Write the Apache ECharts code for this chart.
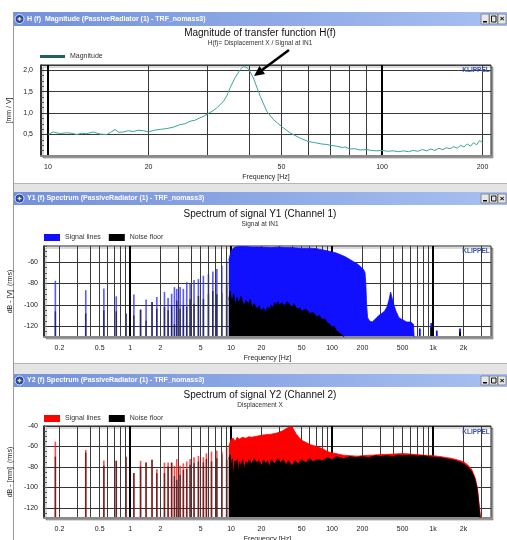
<!DOCTYPE html>
<html>
<head>
<meta charset="utf-8">
<title>Klippel – transfer function and spectra</title>
<script src="https://cdn.jsdelivr.net/npm/echarts@6/dist/echarts.min.js"></script>
<style>
  html, body { margin: 0; padding: 0; background: #fff; }
  #chart { width: 507px; height: 540px; }
</style>
</head>
<body>
<div id="chart"></div>
<script>
var FONT = "'Liberation Sans', Arial, sans-serif";

// ---- H(f) magnitude, mm/V ----
var magFreq = [10.0, 10.37, 10.86, 11.37, 11.8, 12.19, 12.6, 13.06, 13.67, 14.31, 14.99, 15.4, 15.87, 16.3, 16.8, 17.4, 18.0, 18.6, 19.3, 20.0,
  20.8, 21.7, 22.7, 23.7, 24.8, 25.7, 26.6, 27.5, 28.5, 29.3, 30.0, 31.0, 32.0, 33.5, 34.3, 35.1, 36.3, 37.6, 38.6, 39.8,
  41.2, 43.2, 45.2, 47.3, 50, 53, 56.8, 60, 63, 66, 68, 70, 73, 76, 78, 80, 83, 86, 90, 93,
  96, 100, 104, 108, 112, 116, 120, 124, 128, 132, 136, 140, 144, 148, 152, 156, 160, 164, 168, 172,
  176, 180, 184, 188, 192, 196, 200];
var magValue = [0.50, 0.56, 0.52, 0.54, 0.53, 0.50, 0.53, 0.52, 0.56, 0.51, 0.50, 0.55, 0.62, 0.55, 0.56, 0.59, 0.57, 0.60, 0.59, 0.56,
  0.60, 0.62, 0.64, 0.67, 0.73, 0.75, 0.81, 0.83, 0.89, 0.93, 0.98, 1.04, 1.12, 1.27, 1.40, 1.59, 1.82, 2.01, 2.10, 2.03,
  1.82, 1.39, 1.04, 0.85, 0.69, 0.54, 0.42, 0.34, 0.31, 0.28, 0.27, 0.25, 0.23, 0.20, 0.21, 0.16, 0.17, 0.14, 0.15, 0.13,
  0.12, 0.13, 0.11, 0.12, 0.10, 0.12, 0.10, 0.13, 0.11, 0.15, 0.12, 0.16, 0.13, 0.18, 0.15, 0.19, 0.17, 0.22, 0.18, 0.25,
  0.21, 0.28, 0.23, 0.31, 0.26, 0.36, 0.31];
var magXLabels = [10, 20, 50, 100, 200];
var magXGrid = [10, 20, 30, 40, 50, 60, 70, 80, 90, 100, 200];
var magXDecades = [10, 100];
var magYLabels = [0.5, 1, 1.5, 2];

// ---- spectrum axes (Y1 and Y2) ----
var specXLabels = [0.2, 0.5, 1, 2, 5, 10, 20, 50, 100, 200, 500, 1000, 2000];
var specXGrid = [0.2, 0.3, 0.4, 0.5, 0.6, 0.7, 0.8, 0.9, 1, 2, 3, 4, 5, 6, 7, 8, 9,
  10, 20, 30, 40, 50, 60, 70, 80, 90, 100, 200, 300, 400, 500, 600, 700, 800, 900, 1000, 2000, 3000];
var specXDecades = [1, 10, 100, 1000];
var y1YTicks = [-120, -100, -80, -60];
var y2YTicks = [-120, -100, -80, -60, -40];

// ---- Y1 spectrum, dB re 1 V ----
var y1LineFreq   = [0.182, 0.364, 0.55, 0.73, 0.91, 1.09, 1.27, 1.44, 1.65, 1.84, 2.19, 2.38, 2.58, 2.75, 2.9, 3.13, 3.37, 3.64, 3.93, 4.3, 4.75, 5.32, 5.97, 6.6, 7.23, 8.1, 9.05];
var y1LineSignal = [-77.5, -86.3, -84.7, -92, -108, -90.3, -104.4, -95, -97.3, -92.6, -87.9, -93.5, -89.6, -83.4, -85, -83.4, -85, -78.9, -80.5, -76.8, -75.9, -72.8, -71.3, -68.8, -66.6, -63.5, -58.9];
var y1LineNoise  = [-106, -108, -105, -106, -108, -110, -104.4, -114.5, -97.3, -103.5, -102, -105, -100.6, -118, -96, -103.5, -100.6, -102, -94.5, -99, -91.7, -94.5, -90, -87, -90, -88.6, -80.8];
var y1SigFreq  = [9.5, 10, 10.5, 11, 12, 14, 16, 20, 25, 30, 35, 40, 50, 60, 70, 80, 90, 100, 110, 120,
  135, 150, 165, 180, 195, 205, 212, 216, 220, 225, 235, 250, 270, 290, 310, 330, 350, 365, 380, 395,
  410, 430, 460, 500, 550, 600, 640, 650];
var y1SigLevel = [-58, -50, -47, -46, -45.5, -45.5, -46, -46, -46.5, -46, -46.5, -46.5, -47, -47, -47.5, -48.5, -49.5, -50.5, -51.5, -53,
  -55, -57.5, -60, -62, -65, -67, -70, -80, -100, -112, -115, -116, -113, -110, -108, -106, -102, -96, -88, -94,
  -100, -106, -112, -114, -116, -116, -118, -130];
var y1SpikeFreq  = [740, 960, 1090, 1850];
var y1SpikeLevel = [-122, -117, -124, -122];
var y1NoiseFreq  = [9.5, 9.8, 10.2, 10.6, 11, 11.5, 12, 12.5, 13, 13.5, 14, 15, 15.5, 16, 17, 18, 19, 20, 21, 22,
  23, 24, 25, 26, 27, 28, 29, 30, 32, 34, 36, 38, 40, 42, 45, 48, 50, 55, 60, 65,
  70, 75, 80, 85, 90, 95, 100, 105, 110, 118, 125, 132];
var y1NoiseLevel = [-95, -87, -98, -90, -100, -93, -99, -92, -97, -101, -96, -99, -95, -102, -99, -104, -101, -106, -103, -107,
  -102, -104, -100, -103, -98, -101, -97, -100, -98, -101, -97, -100, -102, -99, -104, -103, -106, -104, -108, -107,
  -111, -110, -114, -113, -117, -118, -121, -120, -124, -126, -128, -130];
var y1NoisePeakFreq  = [290, 960, 1850];
var y1NoisePeakLevel = [-117, -121, -125];

// ---- Y2 spectrum, dB re 1 mm ----
var y2LineFreq   = [0.182, 0.364, 0.55, 0.73, 0.91, 1.09, 1.27, 1.44, 1.65, 1.84, 2.19, 2.38, 2.58, 2.75, 2.9, 3.13, 3.37, 3.64, 3.93, 4.3, 4.75, 5.32, 5.7, 6.4, 7.23, 8.1, 9.05];
var y2LineSignal = [-55.3, -63.4, -73.8, -74, -70, -86, -74.1, -75.8, -73, -82.3, -75.8, -75.8, -75.8, -79, -72.4, -79, -76.5, -74.7, -72.4, -70.5, -69.3, -70.5, -66.7, -65, -64, -65, -61];
var y2LineNoise  = [-70, -66, -79, -74, -70, -86, -79.5, -75.8, -73, -86, -86, -79.6, -75.8, -89, -92.6, -87.8, -83, -82, -78, -76.5, -74.7, -75.7, -72.4, -74.7, -71.5, -68, -73];
var y2SigFreq  = [9.5, 10, 10.5, 11, 11.5, 12, 13, 14, 15, 16, 18, 20, 22, 25, 28, 30, 32, 34, 36, 38,
  40, 42, 44, 46, 48, 50, 55, 60, 65, 70, 80, 90, 100, 110, 120, 130, 150, 180, 200, 250,
  300, 400, 500, 600, 700, 800, 1000, 1200, 1500, 1800, 2000, 2200, 2400, 2600, 2750, 2850, 2950, 3000];
var y2SigLevel = [-60, -53, -52, -55, -51, -53, -51, -52, -50.5, -51, -50, -49, -48.5, -48, -47, -46, -45, -43.5, -42, -41,
  -40.8, -44, -47.5, -50, -52, -54, -56, -58, -59, -60, -62, -65, -66.5, -67, -68, -68.5, -69, -69.5, -69, -68.5,
  -68, -67.5, -67, -67.5, -68, -68.5, -69, -70, -71.5, -73.5, -75, -78, -82, -90, -100, -115, -128, -130];
var y2NoiseFreq  = [9.5, 9.8, 10, 10.3, 10.6, 10.9, 11.2, 11.5, 11.8, 12.1, 12.5, 13, 13.5, 14, 14.5, 15, 16, 17, 18, 19,
  20, 21, 22, 23, 24, 25, 27, 29, 31, 33, 35, 37, 40, 43, 46, 50, 55, 60, 65, 70,
  80, 90, 100, 110, 130, 150, 170, 200, 230, 270, 300, 350, 400, 450, 500, 600, 700, 800, 900, 1000,
  1200, 1400, 1600, 1800, 2000, 2200, 2400, 2600, 2750, 2850, 2920];
var y2NoiseLevel = [-72, -68, -80, -72, -90, -74, -78, -73, -85, -75, -79, -73, -82, -75, -78, -73, -77, -72, -76, -74,
  -79, -73, -77, -74, -80, -73, -77, -72, -76, -73, -78, -74, -79, -74, -77, -73, -76, -72, -75, -73,
  -74, -71, -73, -70, -72, -70, -71, -70, -71, -69, -70, -69, -70, -68.5, -69, -68.5, -69.5, -69, -70, -70.5,
  -71, -72.5, -73.5, -75, -77, -80, -84, -92, -103, -118, -130];

function pairs(xs, ys) {
  return xs.map(function (x, i) { return [x, ys[i]]; });
}

var tickFont = { fontFamily: FONT, fontSize: 7, color: '#222' };

function specLabel(v) {
  return v >= 1000 ? (v / 1000) + 'k' : String(v);
}

// vertical spectral lines from the bottom of the plot up to the level
function stems(name, xi, yi, data, color, width, opacity) {
  return {
    name: name,
    type: 'custom',
    xAxisIndex: xi,
    yAxisIndex: yi,
    data: data,
    encode: { x: 0, y: 1 },
    clip: true,
    renderItem: function (params, api) {
      var top = api.coord([api.value(0), api.value(1)]);
      var cs = params.coordSys;
      return {
        type: 'line',
        shape: { x1: top[0], y1: top[1], x2: top[0], y2: cs.y + cs.height },
        style: { stroke: color, lineWidth: width, opacity: opacity }
      };
    }
  };
}

function area(name, xi, yi, data, color) {
  return {
    name: name,
    type: 'line',
    xAxisIndex: xi,
    yAxisIndex: yi,
    data: data,
    symbol: 'none',
    lineStyle: { color: color, width: 0.8 },
    itemStyle: { color: color },
    areaStyle: { color: color, opacity: 1, origin: 'start' }
  };
}

function freqAxis(gi, min, max, grid, labels, formatter) {
  return {
    gridIndex: gi, type: 'log', min: min, max: max, z: 3,
    axisLine: { show: true, onZero: false, lineStyle: { color: '#8a8a8a', width: 2 } },
    axisTick: { show: false, customValues: grid },
    axisLabel: { customValues: labels, margin: 8, formatter: formatter, fontFamily: FONT, fontSize: 7, color: '#222' },
    splitLine: { show: true, lineStyle: { color: '#3a3a3a', width: 1 } },
    name: 'Frequency [Hz]', nameLocation: 'middle', nameGap: 18,
    nameTextStyle: tickFont
  };
}

function decadeAxis(gi, min, max, values) {
  return {
    gridIndex: gi, type: 'log', min: min, max: max, position: 'top', z: 3,
    axisLine: { show: false },
    axisTick: { show: false, customValues: values },
    axisLabel: { show: false },
    splitLine: { show: true, lineStyle: { color: '#000', width: 2 } }
  };
}

function dbAxis(gi, min, max, ticks, name) {
  return {
    gridIndex: gi, type: 'value', min: min, max: max,
    axisLine: { show: true, lineStyle: { color: '#111', width: 1.5 } },
    axisTick: { show: true, inside: true, length: 5, customValues: ticks, lineStyle: { color: '#333' } },
    axisLabel: { customValues: ticks, margin: 6, fontFamily: FONT, fontSize: 7, color: '#222' },
    splitLine: { show: true, lineStyle: { color: '#333', width: 1 } },
    name: name, nameLocation: 'middle', nameGap: 22,
    nameTextStyle: tickFont
  };
}

function minorAxis(gi, min, max) {
  return {
    gridIndex: gi, type: 'value', min: min, max: max, interval: 5, position: 'left',
    axisLine: { show: false },
    axisTick: { show: true, inside: true, length: 3, lineStyle: { color: '#555' } },
    axisLabel: { show: false },
    splitLine: { show: false }
  };
}

// window title bar like the Klippel dB-Lab frames
function windowBar(y, h, label) {
  var mid = y + h / 2;
  var els = [
    { type: 'rect', shape: { x: 13, y: y, width: 494, height: h },
      style: { fill: new echarts.graphic.LinearGradient(0, 0, 1, 0, [
        { offset: 0, color: '#7390da' }, { offset: 1, color: '#a8c0f1' }]) } },
    { type: 'circle', shape: { cx: 19.5, cy: mid, r: 4.5 }, style: { fill: '#1f44b4', stroke: '#e3eafb', lineWidth: 1 } },
    { type: 'rect', shape: { x: 17.5, y: mid - 0.7, width: 4, height: 1.4 }, style: { fill: '#ffe060' } },
    { type: 'rect', shape: { x: 18.8, y: mid - 2, width: 1.4, height: 4 }, style: { fill: '#ffe060' } },
    { type: 'text', style: { text: label, x: 27, y: mid, fill: '#ffffff', font: 'bold 7px ' + FONT,
      verticalAlign: 'middle', textVerticalAlign: 'middle' } }
  ];
  [481, 489.5, 498].forEach(function (bx) {
    els.push({ type: 'rect', shape: { x: bx, y: y + 2, width: 8, height: h - 4 },
      style: { fill: '#e6e6e6', stroke: '#7a7a7a', lineWidth: 0.8 } });
  });
  els.push({ type: 'rect', shape: { x: 483, y: y + h - 5, width: 4, height: 1.5 }, style: { fill: '#000' } });
  els.push({ type: 'rect', shape: { x: 491.5, y: y + 4, width: 4.5, height: h - 8 }, style: { fill: 'none', stroke: '#000', lineWidth: 0.9 } });
  els.push({ type: 'text', style: { text: '×', x: 502, y: mid, fill: '#000', font: 'bold 8px ' + FONT,
    align: 'center', textAlign: 'center', verticalAlign: 'middle', textVerticalAlign: 'middle' } });
  return els;
}

function klippel(y) {
  return { type: 'text', z: 100, style: { text: 'KLIPPEL', x: 476, y: y, fill: '#3a52b0', font: 'bold 6.5px ' + FONT,
    align: 'center', textAlign: 'center', verticalAlign: 'middle', textVerticalAlign: 'middle' } };
}

var graphics = []
  .concat(windowBar(12, 14, 'H (f)  Magnitude (PassiveRadiator (1) - TRF_nomass3)'))
  .concat(windowBar(192, 13, 'Y1 (f) Spectrum (PassiveRadiator (1) - TRF_nomass3)'))
  .concat(windowBar(374, 13, 'Y2 (f) Spectrum (PassiveRadiator (1) - TRF_nomass3)'))
  .concat([
    { type: 'rect', shape: { x: 13, y: 183, width: 494, height: 9 }, style: { fill: '#e4e4e4' } },
    { type: 'rect', shape: { x: 13, y: 363, width: 494, height: 11 }, style: { fill: '#e4e4e4' } },
    { type: 'line', shape: { x1: 13, y1: 183.5, x2: 507, y2: 183.5 }, style: { stroke: '#b5b5b5' } },
    { type: 'line', shape: { x1: 13, y1: 363.5, x2: 507, y2: 363.5 }, style: { stroke: '#b5b5b5' } },
    { type: 'line', shape: { x1: 13.5, y1: 12, x2: 13.5, y2: 540 }, style: { stroke: '#9a9a9a' } },
    klippel(70), klippel(251), klippel(432),
    // arrow to the resonance peak
    { type: 'line', z: 100, shape: { x1: 289, y1: 50, x2: 262, y2: 70 }, style: { stroke: '#000', lineWidth: 2.5 } },
    { type: 'polygon', z: 100, shape: { points: [[254, 76], [265, 74], [259.5, 66]] }, style: { fill: '#000' } }
  ]);

var titleStyle = { fontFamily: FONT, fontSize: 10, fontWeight: 'normal', color: '#111' };
var subStyle = { fontFamily: FONT, fontSize: 6.5, color: '#333' };

var option = {
  animation: false,
  backgroundColor: '#fff',
  textStyle: { fontFamily: FONT },
  title: [
    { text: 'Magnitude of transfer function H(f)', subtext: 'H(f)= Displacement X / Signal at IN1',
      left: 260, top: 28, textAlign: 'center', padding: 0, itemGap: 2, textStyle: titleStyle, subtextStyle: subStyle },
    { text: 'Spectrum of signal Y1 (Channel 1)', subtext: 'Signal at IN1',
      left: 260, top: 209, textAlign: 'center', padding: 0, itemGap: 2, textStyle: titleStyle, subtextStyle: subStyle },
    { text: 'Spectrum of signal Y2 (Channel 2)', subtext: 'Displacement X',
      left: 260, top: 390, textAlign: 'center', padding: 0, itemGap: 2, textStyle: titleStyle, subtextStyle: subStyle }
  ],
  legend: [
    { left: 40, top: 53, padding: 0, selectedMode: false, icon: 'rect', itemWidth: 25, itemHeight: 3,
      data: [{ name: 'Magnitude', itemStyle: { color: '#1f625e' } }],
      textStyle: { fontFamily: FONT, fontSize: 7, color: '#333' } },
    { left: 44, top: 234, padding: 0, selectedMode: false, icon: 'rect', itemWidth: 16, itemHeight: 7, itemGap: 8,
      data: [{ name: 'Signal lines', itemStyle: { color: '#1010ff' } }, { name: 'Noise floor', itemStyle: { color: '#000' } }],
      textStyle: { fontFamily: FONT, fontSize: 7, color: '#333' } },
    { left: 44, top: 415, padding: 0, selectedMode: false, icon: 'rect', itemWidth: 16, itemHeight: 7, itemGap: 8,
      data: [{ name: 'Signal lines', itemStyle: { color: '#ff0000' } }, { name: 'Noise floor', itemStyle: { color: '#000' } }],
      textStyle: { fontFamily: FONT, fontSize: 7, color: '#333' } }
  ],
  grid: [
    { left: 41, top: 65, width: 450, height: 91, show: true, backgroundColor: '#fff', borderColor: '#222', borderWidth: 1,
      shadowColor: 'rgba(0,0,0,0.3)', shadowOffsetX: 2, shadowOffsetY: 2, outerBoundsMode: 'none' },
    { left: 44, top: 246, width: 447, height: 91, show: true, backgroundColor: '#fff', borderColor: '#222', borderWidth: 1,
      shadowColor: 'rgba(0,0,0,0.3)', shadowOffsetX: 2, shadowOffsetY: 2, outerBoundsMode: 'none' },
    { left: 44, top: 426, width: 447, height: 92, show: true, backgroundColor: '#fff', borderColor: '#222', borderWidth: 1,
      shadowColor: 'rgba(0,0,0,0.3)', shadowOffsetX: 2, shadowOffsetY: 2, outerBoundsMode: 'none' }
  ],
  xAxis: [
    freqAxis(0, 9.53, 212, magXGrid, magXLabels, function (v) { return String(v); }),
    decadeAxis(0, 9.53, 212, magXDecades),
    freqAxis(1, 0.1405, 3750, specXGrid, specXLabels, specLabel),
    decadeAxis(1, 0.1405, 3750, specXDecades),
    freqAxis(2, 0.1405, 3750, specXGrid, specXLabels, specLabel),
    decadeAxis(2, 0.1405, 3750, specXDecades)
  ],
  yAxis: [
    {
      gridIndex: 0, type: 'value', min: 0, max: 2.12, interval: 0.5,
      axisLine: { show: true, lineStyle: { color: '#111', width: 1.5 } },
      axisTick: { show: true, inside: true, length: 5, lineStyle: { color: '#333' } },
      minorTick: { show: true, splitNumber: 4, length: 3, lineStyle: { color: '#555' } },
      axisLabel: { margin: 8, fontFamily: FONT, fontSize: 7, color: '#222',
        formatter: function (v) { return magYLabels.indexOf(v) >= 0 ? v.toFixed(1).replace('.', ',') : ''; } },
      splitLine: { show: true, lineStyle: { color: '#3a3a3a', width: 1 } },
      name: '[mm / V]', nameLocation: 'middle', nameGap: 21, nameTextStyle: tickFont
    },
    dbAxis(1, -130, -45, y1YTicks, 'dB - [V]  (rms)'),
    minorAxis(1, -130, -45),
    dbAxis(2, -130, -40, y2YTicks, 'dB - [mm]  (rms)'),
    minorAxis(2, -130, -40)
  ],
  series: [
    { name: 'Magnitude', type: 'line', xAxisIndex: 0, yAxisIndex: 0, data: pairs(magFreq, magValue),
      symbol: 'none', lineStyle: { color: '#3aa59b', width: 1 }, itemStyle: { color: '#3aa59b' } },

    stems('Signal lines', 2, 1, pairs(y1LineFreq, y1LineSignal), '#3030ff', 1.6, 0.8),
    area('Signal lines', 2, 1, pairs(y1SigFreq, y1SigLevel), '#1010ff'),
    stems('Signal lines', 2, 1, pairs(y1SpikeFreq, y1SpikeLevel), '#1010ff', 1.8, 1),
    stems('Noise floor', 2, 1, pairs(y1LineFreq, y1LineNoise), '#000', 1.6, 0.55),
    area('Noise floor', 2, 1, pairs(y1NoiseFreq, y1NoiseLevel), '#000'),
    stems('Noise floor', 2, 1, pairs(y1NoisePeakFreq, y1NoisePeakLevel), '#000', 1.8, 1),

    stems('Signal lines', 4, 3, pairs(y2LineFreq, y2LineSignal), '#ff2020', 1.6, 0.8),
    area('Signal lines', 4, 3, pairs(y2SigFreq, y2SigLevel), '#ff0000'),
    stems('Noise floor', 4, 3, pairs(y2LineFreq, y2LineNoise), '#000', 1.6, 0.55),
    area('Noise floor', 4, 3, pairs(y2NoiseFreq, y2NoiseLevel), '#000')
  ],
  graphic: graphics
};

var chart = echarts.init(document.getElementById('chart'));
chart.setOption(option);
</script>
</body>
</html>
